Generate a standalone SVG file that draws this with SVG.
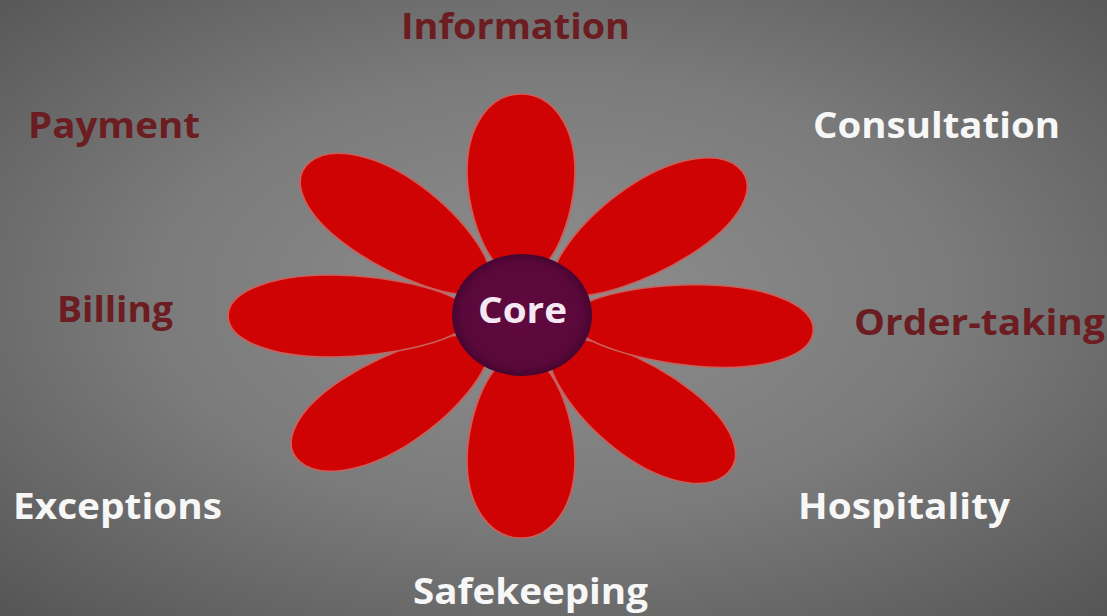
<svg xmlns="http://www.w3.org/2000/svg" width="1107" height="616" viewBox="0 0 1107 616">
  <defs>
    <radialGradient id="bg" cx="50%" cy="48%" r="72%">
      <stop offset="0" stop-color="#8e8e8e"/>
      <stop offset="0.5" stop-color="#7b7b7b"/>
      <stop offset="1" stop-color="#555555"/>
    </radialGradient>
    <radialGradient id="coreFill" cx="50%" cy="50%" r="50%">
      <stop offset="0" stop-color="#60093f"/>
      <stop offset="0.85" stop-color="#5a083b"/>
      <stop offset="1" stop-color="#470530"/>
    </radialGradient>
    <!-- one egg-shaped petal, pointing up from the flower centre -->
    <path id="petal" d="M 0,-38 C 24,-38 41,-100 41,-145 C 41,-190 24,-222 0,-222 C -24,-222 -41,-190 -41,-145 C -41,-100 -24,-38 0,-38 Z"/>
  </defs>
  <style>
    .petal { fill: #cf0303; stroke: #c8605c; stroke-width: 1.5; vector-effect: non-scaling-stroke; }
    .lbl { font-family: "Open Sans", "Liberation Sans", sans-serif; font-weight: 700; font-size: 36px; }
    .dark { fill: #6b1d22; }
    .light { fill: #f7f7f7; }
  </style>

  <rect width="1107" height="616" fill="url(#bg)"/>

  <!-- flower: drawn round (0,0) then widened horizontally -->
  <g id="flower" transform="translate(521 316) scale(1.32 1)">
    <g id="petal-upper-right"><use href="#petal" class="petal" transform="rotate(47.8)"/></g>
    <g id="petal-lower-right"><use href="#petal" class="petal" transform="rotate(136)"/></g>
    <g id="petal-lower-left"><use href="#petal" class="petal" transform="rotate(229)"/></g>
    <g id="petal-upper-left"><use href="#petal" class="petal" transform="rotate(314)"/></g>
    <g id="petal-top"><use href="#petal" class="petal" transform="rotate(0)"/></g>
    <g id="petal-right"><use href="#petal" class="petal" transform="rotate(94)"/></g>
    <g id="petal-bottom"><use href="#petal" class="petal" transform="rotate(180)"/></g>
    <g id="petal-left"><use href="#petal" class="petal" transform="rotate(270)"/></g>
  </g>

  <g id="core">
    <ellipse cx="522" cy="315" rx="70" ry="61" fill="url(#coreFill)"/>
    <text x="478" y="323" class="lbl" fill="#f6e8f2" font-size="35" textLength="89" lengthAdjust="spacingAndGlyphs">Core</text>
  </g>

  <g id="information"><text x="401" y="39" class="lbl dark" textLength="229" lengthAdjust="spacingAndGlyphs">Information</text></g>
  <g id="payment"><text x="28" y="138" class="lbl dark" textLength="172" lengthAdjust="spacingAndGlyphs">Payment</text></g>
  <g id="consultation"><text x="813" y="138" class="lbl light" textLength="247" lengthAdjust="spacingAndGlyphs">Consultation</text></g>
  <g id="billing"><text x="57" y="322" class="lbl dark" textLength="116" lengthAdjust="spacingAndGlyphs">Billing</text></g>
  <g id="order-taking"><text x="854" y="335" class="lbl dark" textLength="251" lengthAdjust="spacingAndGlyphs">Order-taking</text></g>
  <g id="exceptions"><text x="13" y="519" class="lbl light" textLength="209" lengthAdjust="spacingAndGlyphs">Exceptions</text></g>
  <g id="hospitality"><text x="798" y="519" class="lbl light" textLength="212" lengthAdjust="spacingAndGlyphs">Hospitality</text></g>
  <g id="safekeeping"><text x="413" y="604" class="lbl light" textLength="235" lengthAdjust="spacingAndGlyphs">Safekeeping</text></g>
</svg>
